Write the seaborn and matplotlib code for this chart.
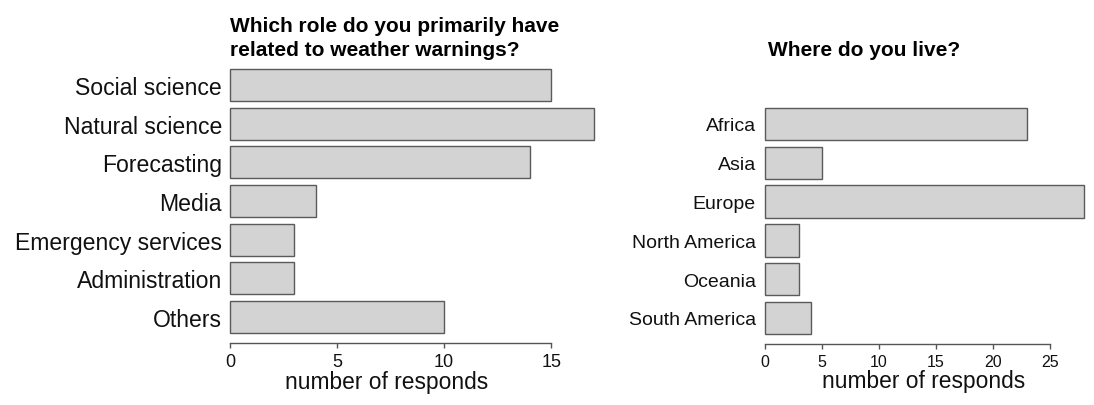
import matplotlib
matplotlib.use('Agg')
import matplotlib.pyplot as plt
import seaborn as sns

# Survey answers
roles = ['Social science', 'Natural science', 'Forecasting', 'Media',
         'Emergency services', 'Administration', 'Others']
role_counts = [15, 17, 14, 4, 3, 3, 10]

regions = ['Africa', 'Asia', 'Europe', 'North America', 'Oceania', 'South America']
region_counts = [23, 5, 28, 3, 3, 4]

role_ticks = [0, 5, 10, 15]
region_ticks = [0, 5, 10, 15, 20, 25]

sns.set_style('white')
plt.rcParams['font.family'] = ['Liberation Sans', 'DejaVu Sans']

W, H = 1094, 406
fig = plt.figure(figsize=(W / 100, H / 100), dpi=100)


def px_axes(left, right, top, bottom):
    return fig.add_axes([left / W, 1 - bottom / H, (right - left) / W, (bottom - top) / H])


def style_panel(ax, ticks, xmax, n, tick_fs, ylab_fs, ypad, label_x):
    ax.set_xlim(0, xmax)
    ax.set_ylim(n - 0.5, -0.5)
    for p in ax.patches:
        p.set_clip_on(False)
    for s in ['top', 'right', 'left']:
        ax.spines[s].set_visible(False)
    ax.spines['bottom'].set_position(('outward', 5))
    ax.spines['bottom'].set_bounds(ticks[0], ticks[-1])
    ax.spines['bottom'].set_color('#555555')
    ax.spines['bottom'].set_linewidth(1.0)
    ax.set_xticks(ticks)
    ax.tick_params(axis='x', bottom=True, length=3.6, width=1.0, color='#555555',
                   labelsize=tick_fs, pad=3, labelcolor='#111111')
    ax.tick_params(axis='y', left=False, labelsize=ylab_fs, pad=ypad, labelcolor='#111111')
    ax.set_ylabel('')
    ax.set_xlabel('number of responds', fontsize=16.4, color='#111111', labelpad=0)
    ax.xaxis.label.set_x(label_x)


bar_kw = dict(color='#d3d3d3', edgecolor='#5a5a5a', linewidth=1.0, saturation=1, width=0.83)

# Left panel: roles
ax1 = px_axes(230, 594, 66.6, 337.4)
sns.barplot(x=role_counts, y=roles, orient='h', ax=ax1, **bar_kw)
style_panel(ax1, role_ticks, 17, len(roles), 13, 16.6, 2.2, 0.429)

# Right panel: regions
ax2 = px_axes(765, 1084, 105.6, 338.4)
sns.barplot(x=region_counts, y=regions, orient='h', ax=ax2, **bar_kw)
style_panel(ax2, region_ticks, 28, len(regions), 11.5, 14, 3, 0.497)

fig.text(230 / W, 1 - 60 / H, 'Which role do you primarily have\nrelated to weather warnings?',
         fontsize=15, fontweight='bold', color='black', ha='left', va='bottom', linespacing=1.3)
fig.text(768 / W, 1 - 60 / H, 'Where do you live?',
         fontsize=15, fontweight='bold', color='black', ha='left', va='bottom')

fig.savefig('out.png', dpi=100)
